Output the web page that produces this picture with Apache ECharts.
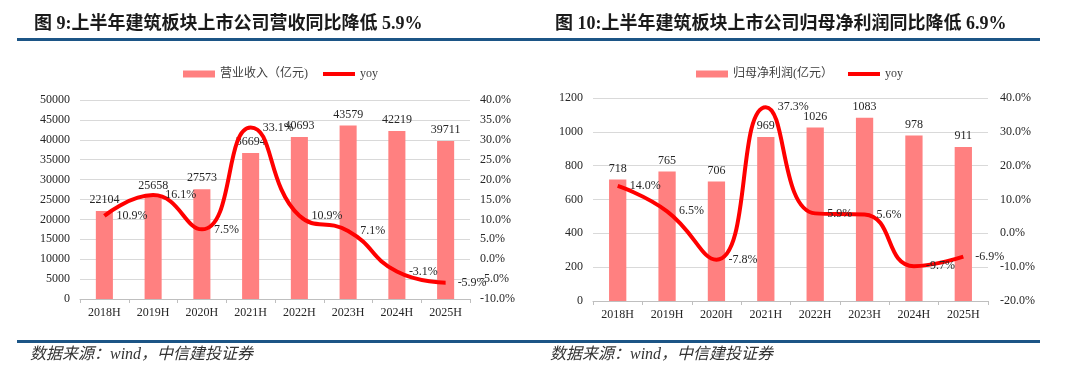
<!DOCTYPE html>
<html>
<head>
<meta charset="utf-8">
<script src="https://cdn.jsdelivr.net/npm/echarts@6/dist/echarts.min.js"></script>
<style>html,body{margin:0;padding:0;background:#fff;}#c{width:1080px;height:378px;}</style>
</head>
<body>
<div id="c"></div>
<script>
const categories = ['2018H','2019H','2020H','2021H','2022H','2023H','2024H','2025H'];
const revenue = [22104,25658,27573,36694,40693,43579,42219,39711];
const revenueYoy = [10.9,16.1,7.5,33.1,10.9,7.1,-3.1,-5.9];
const profit = [718,765,706,969,1026,1083,978,911];
const profitYoy = [14.0,6.5,-7.8,37.3,5.9,5.6,-9.7,-6.9];
const leftTitle = '图 9:上半年建筑板块上市公司营收同比降低 5.9%';
const rightTitle = '图 10:上半年建筑板块上市公司归母净利润同比降低 6.9%';
const revenueName = '营业收入（亿元)';
const profitName = '归母净利润(亿元）';
const sourceText = '数据来源：wind，中信建投证券';

const SERIF = "'Liberation Serif','Times New Roman','Noto Sans CJK SC',serif";
const TXT = '#262626';
const BLUE = '#1c5586';
const BAR = '#ff8080';
const RED = '#ff0000';
const LINE_ICON = 'path://M0,0 L32,0 L32,4 L0,4 Z';

const chart = echarts.init(document.getElementById('c'));

function catAxis(gi){
  return {
    type:'category', gridIndex:gi, data:categories,
    axisLine:{lineStyle:{color:'#bfbfbf'}},
    axisTick:{show:true, length:4, lineStyle:{color:'#bfbfbf'}},
    axisLabel:{color:TXT, fontFamily:SERIF, fontSize:12, margin:8}
  };
}
function valAxis(gi, min, max, interval, pct, margin){
  return {
    type:'value', gridIndex:gi, min:min, max:max, interval:interval,
    axisLine:{show:false}, axisTick:{show:false},
    splitLine:{show:!pct, lineStyle:{color:'#d9d9d9'}},
    axisLabel:{color:TXT, fontFamily:SERIF, fontSize:12, margin:margin,
      formatter: pct ? (v)=>v.toFixed(1)+'%' : (v)=>String(v)}
  };
}
function barSeries(name, data, xi, yi){
  return {
    name:name, type:'bar', xAxisIndex:xi, yAxisIndex:yi, data:data,
    barWidth:'35%', itemStyle:{color:BAR},
    label:{show:true, position:'top', distance:5, color:TXT, fontFamily:SERIF, fontSize:12},
    z:2
  };
}
function lineSeries(data, xi, yi){
  return {
    name:'yoy', type:'line', xAxisIndex:xi, yAxisIndex:yi, data:data,
    smooth:0.5, symbol:'circle', symbolSize:0, showSymbol:true,
    lineStyle:{color:RED, width:4}, itemStyle:{color:RED},
    label:{show:true, position:'right', distance:12, color:TXT, fontFamily:SERIF, fontSize:12,
      formatter:(p)=>p.value.toFixed(1)+'%'},
    z:3
  };
}

const option = {
  animation:false,
  backgroundColor:'#fff',
  title:[
    {text:leftTitle, left:29, top:10, textStyle:{fontFamily:SERIF, fontWeight:'bold', fontSize:18, color:'#1a1a1a'}},
    {text:rightTitle, left:550, top:10, textStyle:{fontFamily:SERIF, fontWeight:'bold', fontSize:18, color:'#1a1a1a'}}
  ],
  legend:[
    {left:178, top:63, itemWidth:32, itemHeight:7, itemGap:15,
     textStyle:{color:'#404040', fontFamily:SERIF, fontSize:12},
     data:[{name:revenueName, icon:'rect'}, {name:'yoy', icon:LINE_ICON}]},
    {left:691, top:63, itemWidth:32, itemHeight:7, itemGap:15,
     textStyle:{color:'#404040', fontFamily:SERIF, fontSize:12},
     data:[{name:profitName, icon:'rect'}, {name:'yoy', icon:LINE_ICON}]}
  ],
  grid:[
    {left:80, right:610, top:100, bottom:79},
    {left:593, right:92, top:98, bottom:77}
  ],
  xAxis:[catAxis(0), catAxis(1)],
  yAxis:[
    valAxis(0, 0, 50000, 5000, false, 10),
    valAxis(0, -10, 40, 5, true, 10),
    valAxis(1, 0, 1200, 200, false, 10),
    valAxis(1, -20, 40, 10, true, 12)
  ],
  series:[
    barSeries(revenueName, revenue, 0, 0),
    lineSeries(revenueYoy, 0, 1),
    barSeries(profitName, profit, 1, 2),
    lineSeries(profitYoy, 1, 3)
  ],
  graphic:[
    {type:'rect', left:17, top:38, shape:{width:1023, height:3}, style:{fill:BLUE}},
    {type:'rect', left:17, top:340, shape:{width:1023, height:3}, style:{fill:BLUE}},
    {type:'text', left:30, top:347, style:{text:sourceText, fill:'#333', fontSize:16, fontStyle:'italic', fontFamily:SERIF}},
    {type:'text', left:550, top:347, style:{text:sourceText, fill:'#333', fontSize:16, fontStyle:'italic', fontFamily:SERIF}}
  ]
};
chart.setOption(option);
</script>
</body>
</html>
